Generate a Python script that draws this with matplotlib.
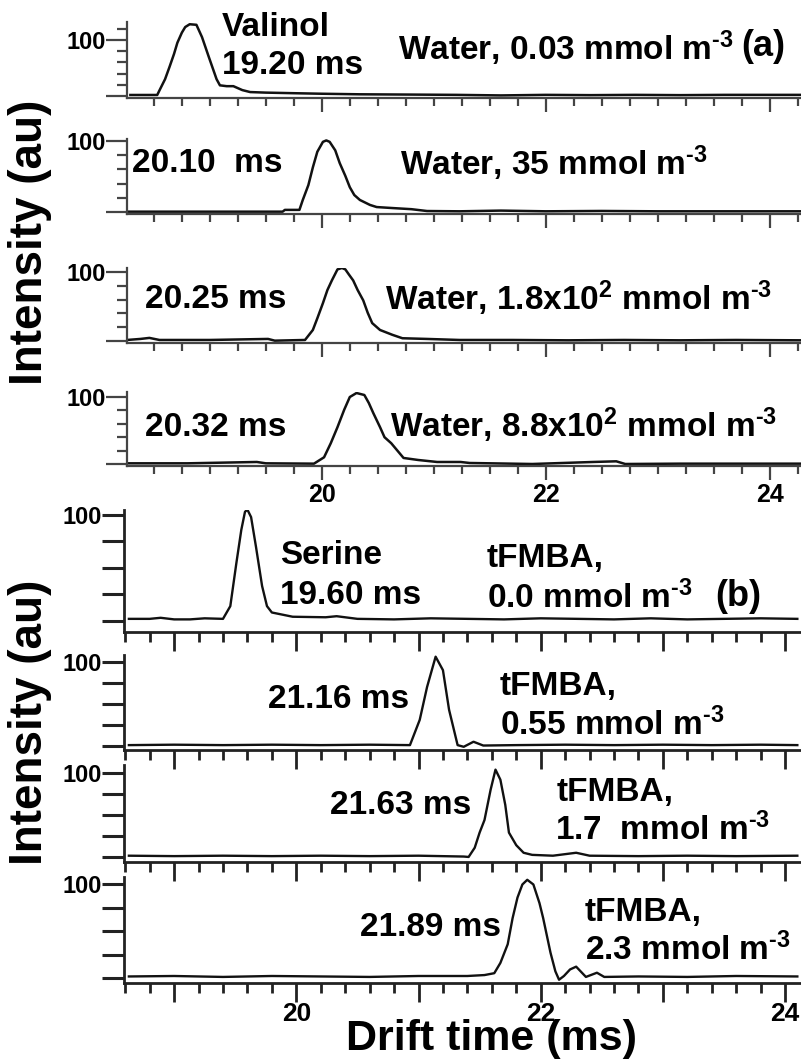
import matplotlib
matplotlib.use("Agg")
import matplotlib.pyplot as plt
from matplotlib.ticker import MultipleLocator

plt.rcParams['font.family'] = ['Liberation Sans', 'DejaVu Sans']
plt.rcParams['font.weight'] = 'bold'
plt.rcParams['mathtext.fontset'] = 'custom'
plt.rcParams['mathtext.rm'] = 'Liberation Sans:bold'
plt.rcParams['mathtext.default'] = 'rm'

W, H = 801, 1059

# ---- (a) water series: drift time (ms) vs intensity (au)
a1_x = [18.29, 18.53, 18.55, 18.60, 18.64, 18.68, 18.71, 18.75, 18.78, 18.82, 18.88, 18.93,
        18.99, 19.06, 19.09, 19.15, 19.21, 19.29, 19.36, 19.50, 19.74, 20.00, 20.34, 20.80,
        21.20, 21.60, 22.00, 22.40, 22.80, 23.20, 23.60, 24.00, 24.28]
a1_y = [1.8, 1.8, 10, 30, 52, 75, 95, 113, 123, 128, 127, 105, 70, 30, 19, 17.5, 17.5, 10.5,
        7, 6, 5, 4, 3, 2.5, 2, 1, 2, 1.5, 2, 1.5, 2, 2, 2]

a2_x = [18.26, 18.8, 19.3, 19.65, 19.67, 19.80, 19.83, 19.88, 19.92, 19.96, 20.01, 20.04,
        20.07, 20.12, 20.16, 20.21, 20.25, 20.29, 20.34, 20.43, 20.49, 20.63, 20.80, 20.94,
        21.23, 21.6, 22.0, 22.5, 23.0, 23.5, 24.28]
a2_y = [0.5, 0.5, 0.5, 0.5, 3, 3, 17, 38, 63, 85, 99, 101, 99, 87, 69, 51, 35, 24, 17, 10,
        7, 5.6, 4, 1.4, 1, 2, 1, 1.5, 1, 1, 1]

a3_x = [18.26, 18.38, 18.46, 18.55, 19.0, 19.52, 19.58, 19.85, 19.92, 19.96, 20.01, 20.05,
        20.09, 20.14, 20.18, 20.21, 20.24, 20.28, 20.32, 20.37, 20.41, 20.45, 20.52, 20.63,
        20.72, 20.94, 21.23, 21.7, 22.2, 22.7, 23.2, 23.7, 24.28]
a3_y = [1.5, 3, 4.5, 1.5, 1.5, 3, 0.5, 1.5, 16, 33, 55, 74, 88, 104, 106, 104, 97, 88, 74,
        59, 41, 26, 16, 9, 4, 3, 1.5, 1.5, 1, 1.5, 1, 1.5, 1]

a4_x = [18.26, 18.8, 19.42, 19.5, 19.93, 20.02, 20.08, 20.14, 20.20, 20.25, 20.31, 20.38,
        20.42, 20.46, 20.52, 20.56, 20.62, 20.67, 20.73, 20.86, 21.03, 21.24, 21.32, 21.88,
        22.42, 22.63, 22.71, 23.2, 23.7, 24.28]
a4_y = [1, 1, 3, 1, 0.5, 10, 31, 55, 81, 100, 106, 103, 91, 76, 55, 40, 31, 21, 9, 6, 3, 3,
        1.5, 0, 3, 4, 0, 0.5, 0.5, 0.5]

# ---- (b) tFMBA series
b1_x = [18.63, 18.80, 18.89, 19.00, 19.13, 19.25, 19.40, 19.46, 19.51, 19.55, 19.58, 19.60,
        19.63, 19.67, 19.72, 19.76, 19.80, 19.97, 20.24, 20.33, 20.5, 20.8, 21.1, 21.4, 21.7,
        22.0, 22.3, 22.6, 22.9, 23.2, 23.5, 23.8, 24.1]
b1_y = [2, 2, 3, 1.5, 1.5, 2.5, 2, 14, 55, 86, 103, 105, 98, 70, 33, 14, 8, 4, 3.5, 4.5, 2,
        1.5, 2.5, 2, 1.5, 2.5, 2, 1.5, 2.5, 1.5, 2, 2.5, 2]

b2_x = [18.63, 19.0, 19.4, 19.8, 20.2, 20.6, 20.93, 21.01, 21.07, 21.14, 21.20, 21.25, 21.32,
        21.37, 21.45, 21.53, 21.8, 22.2, 22.6, 23.0, 23.4, 23.8, 24.1]
b2_y = [1, 1.5, 1, 1.5, 1, 1.5, 1, 31, 70, 106, 90, 43, 1, -1, 5, 0.5, 1, 1.5, 1, 1.5, 1,
        1.5, 1]

b3_x = [18.63, 19.0, 19.4, 19.8, 20.2, 20.6, 21.0, 21.37, 21.41, 21.46, 21.50, 21.54, 21.59,
        21.63, 21.67, 21.71, 21.74, 21.80, 21.86, 21.93, 22.1, 22.29, 22.4, 22.8, 23.2, 23.6,
        24.1]
b3_y = [1.5, 1, 1.5, 1, 1.5, 1, 1.5, 0.5, 0, 11, 29, 44, 80, 104, 92, 62, 29, 14, 5, 2.5,
        1.5, 5, 1.5, 1, 1.5, 1, 1.5]

b4_x = [18.63, 19.0, 19.4, 19.8, 20.2, 20.6, 21.0, 21.4, 21.54, 21.62, 21.67, 21.73, 21.77,
        21.81, 21.85, 21.89, 21.94, 21.99, 22.02, 22.08, 22.12, 22.15, 22.19, 22.24, 22.29,
        22.37, 22.46, 22.52, 22.8, 23.2, 23.6, 24.1]
b4_y = [1.5, 2, 1, 2, 1.5, 1, 2, 2, 3, 5, 16, 36, 64, 86, 100, 105, 100, 80, 64, 27, 7, -2,
        2, 9, 12, 1, 5.5, 1, 1.5, 1, 2, 1.5]

MINUS3 = r'$^{\text{-}3}$'


def box(left, top, right, bottom):
    # pixel box -> figure fraction rect
    return [left / W, 1 - bottom / H, (right - left) / W, (bottom - top) / H]


def ftext(x, y, s, size=24, **kw):
    fig.text(x / W, 1 - y / H, s, fontsize=size, fontweight='bold', va='center', ha='left', **kw)


fig = plt.figure(figsize=(W / 100, H / 100), dpi=100)

# panel definitions: data, pixel box, ylim
panels_a = [
    (a1_x, a1_y, (127, 22, 801, 98), (-3.6, 132)),
    (a2_x, a2_y, (127, 139, 801, 214), (-2.8, 103)),
    (a3_x, a3_y, (127, 268, 801, 343), (-2.9, 106)),
    (a4_x, a4_y, (127, 392, 801, 466), (-3, 107.5)),
]
panels_b = [
    (b1_x, b1_y, (124, 510, 801, 632), (-10.4, 104.7)),
    (b2_x, b2_y, (124, 655, 801, 750), (-4.8, 108)),
    (b3_x, b3_y, (124, 765, 801, 862), (-6, 109.5)),
    (b4_x, b4_y, (124, 877, 801, 983), (-5.5, 108)),
]

for i, (x, y, pb, yl) in enumerate(panels_a):
    ax = fig.add_axes(box(*pb))
    ax.plot(x, y, color='#111111', lw=1.8)
    ax.set_xlim(18.26, 24.28)
    ax.set_ylim(*yl)
    for s in ['top', 'right']:
        ax.spines[s].set_visible(False)
    for s in ['left', 'bottom']:
        ax.spines[s].set_color('#444444')
        ax.spines[s].set_linewidth(1.6)
    ax.set_yticks([0, 100], labels=['', '100'])
    ax.yaxis.set_minor_locator(MultipleLocator(20))
    ax.tick_params(axis='y', which='major', length=15, width=1.6, color='#444444', labelsize=17, pad=0)
    ax.tick_params(axis='y', which='minor', length=7, width=1.6, color='#444444')
    if i == 3:
        ax.set_xticks([20, 22, 24], labels=['20', '22', '24'])
    else:
        ax.set_xticks([20, 22, 24], labels=['', '', ''])
    ax.xaxis.set_minor_locator(MultipleLocator(0.25))
    ax.tick_params(axis='x', which='major', length=10, width=1.6, color='#444444', labelsize=18, pad=2)
    ax.tick_params(axis='x', which='minor', length=6, width=1.6, color='#444444')
    ax.patch.set_alpha(0)

for i, (x, y, pb, yl) in enumerate(panels_b):
    ax = fig.add_axes(box(*pb))
    ax.plot(x, y, color='#111111', lw=1.7)
    ax.set_xlim(18.59, 24.13)
    ax.set_ylim(*yl)
    for s in ['top', 'right']:
        ax.spines[s].set_visible(False)
    for s in ['left', 'bottom']:
        ax.spines[s].set_color('#222222')
        ax.spines[s].set_linewidth(2)
    ax.set_yticks([0, 25, 50, 75, 100], labels=['', '', '', '', '100'])
    ax.tick_params(axis='y', which='major', length=16, width=2.2, color='#222222', labelsize=17, pad=0)
    ticks = [19, 20, 21, 22, 23, 24]
    if i == 3:
        ax.set_xticks(ticks, labels=['', '20', '', '22', '', '24'])
    else:
        ax.set_xticks(ticks, labels=[''] * 6)
    ax.xaxis.set_minor_locator(MultipleLocator(0.2))
    ax.tick_params(axis='x', which='major', length=14, width=2, color='#222222', labelsize=19, pad=0)
    ax.tick_params(axis='x', which='minor', length=7, width=2, color='#222222')
    ax.patch.set_alpha(0)

# annotations (a)
ftext(222, 28, 'Valinol')
ftext(222, 66, '19.20 ms')
ftext(398, 48, 'Water, 0.03 mmol m' + MINUS3)
ftext(741, 46, '(a)', size=26)
ftext(132, 163, '20.10  ms')
ftext(400, 163, 'Water, 35 mmol m' + MINUS3)
ftext(145, 300, '20.25 ms')
ftext(385, 298, 'Water, 1.8x10$^{2}$ mmol m' + MINUS3)
ftext(145, 427, '20.32 ms')
ftext(390, 425, 'Water, 8.8x10$^{2}$ mmol m' + MINUS3)

# annotations (b)
ftext(280, 556, 'Serine')
ftext(280, 596, '19.60 ms')
ftext(487, 558, 'tFMBA,')
ftext(487, 598, '0.0 mmol m' + MINUS3)
ftext(715, 596, '(b)', size=26)
ftext(268, 700, '21.16 ms')
ftext(500, 687, 'tFMBA,')
ftext(500, 725, '0.55 mmol m' + MINUS3)
ftext(330, 806, '21.63 ms')
ftext(557, 792, 'tFMBA,')
ftext(555, 830, '1.7  mmol m' + MINUS3)
ftext(360, 928, '21.89 ms')
ftext(585, 912, 'tFMBA,')
ftext(585, 950, '2.3 mmol m' + MINUS3)

# axis titles
fig.text(30 / W, 1 - 242 / H, 'Intensity (au)', rotation=90, fontsize=33, fontweight='bold',
         ha='center', va='center')
fig.text(30 / W, 1 - 722 / H, 'Intensity (au)', rotation=90, fontsize=33, fontweight='bold',
         ha='center', va='center')
fig.text(492 / W, 1 - 1039 / H, 'Drift time (ms)', fontsize=31, fontweight='bold',
         ha='center', va='center')

fig.savefig('out.png', dpi=100)
